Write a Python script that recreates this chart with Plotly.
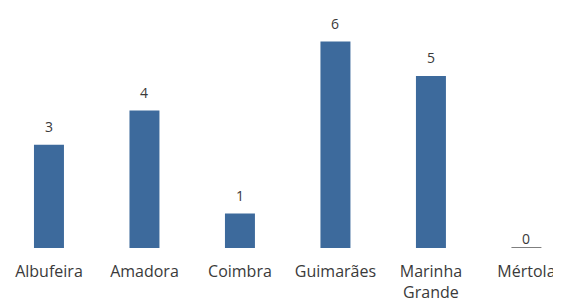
import plotly.graph_objects as go

categories = ["Albufeira", "Amadora", "Coimbra", "Guimarães", "Marinha<br>Grande", "Mértola"]
values = [3, 4, 1, 6, 5, 0]
value_labels = ["3", "4", "1", "6", "5", "0"]

bar_color = "#3d6a9c"
text_color = "#3a3a3a"

line_widths = [1.5 if v == 0 else 0 for v in values]
line_colors = ["#555555" if v == 0 else bar_color for v in values]

fig = go.Figure()
fig.add_trace(go.Bar(
    x=categories,
    y=values,
    width=0.314,
    marker=dict(color=bar_color, line=dict(width=line_widths, color=line_colors)),
    hoverinfo="skip",
))

for c, v, t in zip(categories, values, value_labels):
    fig.add_annotation(
        x=c, y=v, text=t, showarrow=False,
        yanchor="middle", yshift=18 if v > 0 else 10,
        font=dict(family="Open Sans", size=14, color=text_color),
    )

# The page adds an 8px body margin, so the figure is sized to fit the window
fig.update_layout(
    width=553, height=294,
    margin=dict(l=0, r=0, t=4, b=54),
    paper_bgcolor="white", plot_bgcolor="white",
    showlegend=False,
    font=dict(family="Open Sans", size=16, color=text_color),
    xaxis=dict(
        range=[-0.429, 5.362],
        showgrid=False, zeroline=False, showline=False,
        ticks="", tickfont=dict(family="Open Sans", size=16, color=text_color),
        ticklabelstandoff=12,
    ),
    yaxis=dict(
        range=[0, 6.86], visible=False, showgrid=False, zeroline=False,
    ),
)

fig.write_html("out.html")
